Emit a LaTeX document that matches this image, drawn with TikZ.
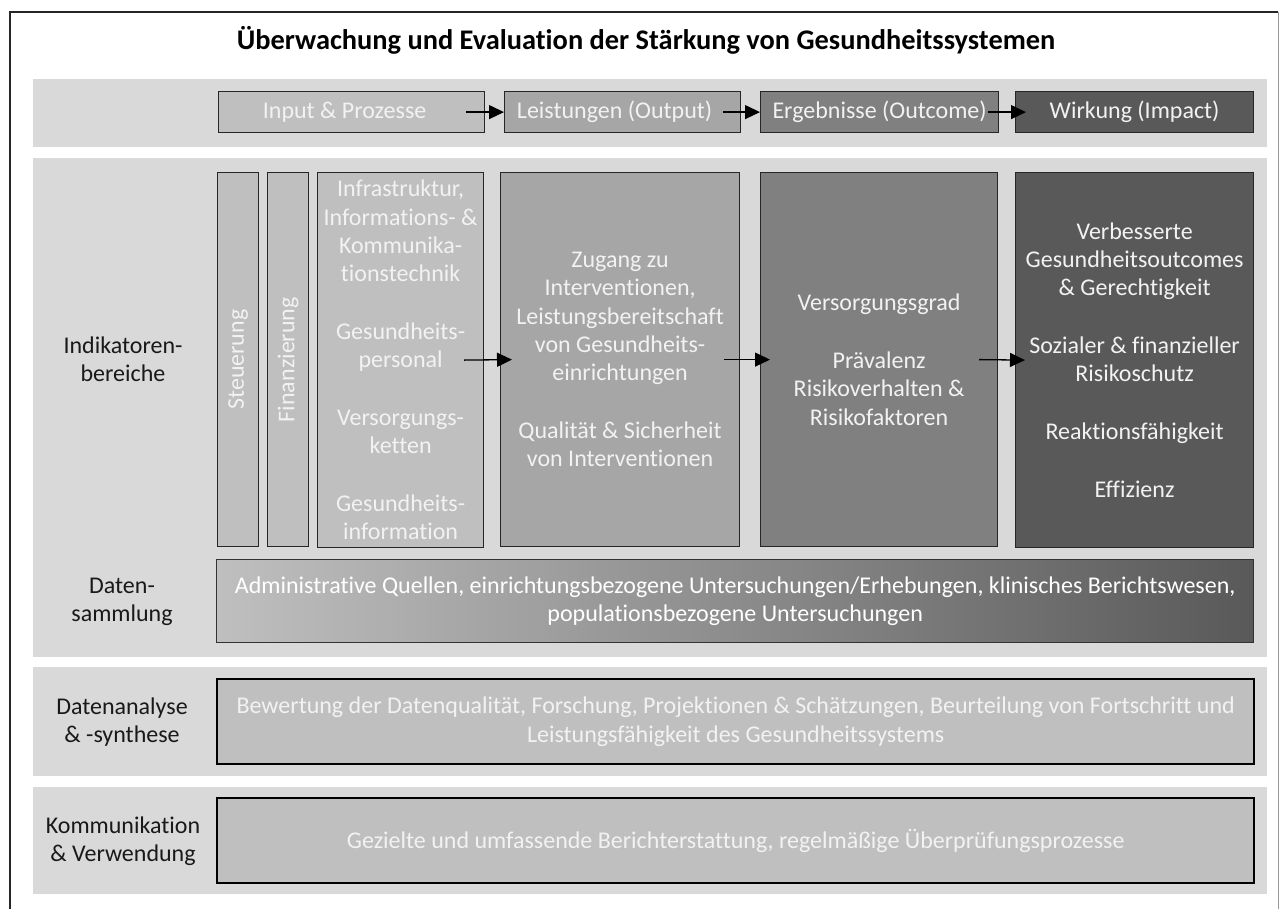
\documentclass[tikz,border=0pt]{standalone}
\usepackage{fontspec}
\setmainfont{Carlito}[Ligatures={NoCommon,NoContextual},Contextuals={NoAlternate}]
\usetikzlibrary{arrows.meta,calc}
\definecolor{panelgray}{HTML}{D9D9D9}
\definecolor{gA}{HTML}{BFBFBF}
\definecolor{gB}{HTML}{A6A6A6}
\definecolor{gC}{HTML}{808080}
\definecolor{gD}{HTML}{595959}
\definecolor{lighttext}{HTML}{F2F2F2}
\definecolor{edgecol}{HTML}{262626}
\begin{document}
\begin{tikzpicture}[x=1pt,y=-1pt,
  panel/.style={fill=panelgray,draw=none},
  txt/.style={font=\fontsize{24}{28.3}\selectfont},
  box/.style={txt,draw=edgecol,line width=1.2pt,inner sep=0pt,align=center,text=lighttext,anchor=north west},
  heavybox/.style={box,draw=black,line width=2.4pt,fill=gA},
  lbl/.style={txt,align=center,text=black!90},
  vlbl/.style={txt,rotate=90,text=lighttext},
  arr/.style={-{Triangle[length=15pt,width=14pt]},line width=1.3pt,black}]
\useasboundingbox (0,0) rectangle (1279,908);
% outer frame
\draw[line width=1.5pt,black!85] (10,940) -- (10,12) -- (1278,12);
\draw[line width=1pt,black!40] (1278,12) -- (1278,940);
% title
\node[font=\fontsize{28.4}{34}\selectfont\bfseries,anchor=base] (title) at (646,49) {Überwachung und Evaluation der Stärkung von Gesundheitssystemen};
% panels
\path[panel] (33,79) rectangle (1267,147);
\path[panel] (33,158) rectangle (1267,657);
\path[panel] (33,667) rectangle (1267,776);
\path[panel] (33,787) rectangle (1267,894);
% top row
\node[box,fill=gA,minimum width=266pt,minimum height=41pt] (inp) at (218,91) {};
\node[txt,text=lighttext] (inpt) at ($(inp.center)+(-7,0)$) {Input \& Prozesse};
\node[box,fill=gB,minimum width=236pt,minimum height=41pt] (outp) at (504,91) {};
\node[txt,text=lighttext] (outpt) at ($(outp.center)+(-8,0)$) {Leistungen (Output)};
\node[box,fill=gC,minimum width=238pt,minimum height=41pt] (outc) at (760,91) {Ergebnisse (Outcome)};
\node[box,fill=gD,minimum width=238pt,minimum height=41pt] (imp) at (1015,91) {Wirkung (Impact)};
\draw[arr] ($(inp.east)+(-19,0)$) -- (outp.west);
\draw[arr] ($(outp.east)+(-18,0)$) -- (outc.west);
\draw[arr] ($(outc.east)+(-11,0)$) -- ($(imp.west)+(11,0)$);
% indicator row
\node[box,fill=gA,minimum width=41pt,minimum height=374pt] (steu) at (217,172) {};
\node[vlbl] (steut) at (steu.center) {Steuerung};
\node[box,fill=gA,minimum width=41pt,minimum height=374pt] (fin) at (267,172) {};
\node[vlbl] (fint) at (fin.center) {Finanzierung};
\node[box,fill=gA,minimum width=166pt,minimum height=375pt] (infra) at (317,172)
  {Infrastruktur,\\Informations- \&\\Kommunika-\\tionstechnik\\[29.5pt]Gesundheits-\\personal\\[29.5pt]Versorgungs-\\ketten\\[29.5pt]Gesundheits-\\information};
\node[box,fill=gB,minimum width=239pt,minimum height=374pt] (zug) at (500,172)
  {Zugang zu\\Interventionen,\\Leistungsbereitschaft\\von Gesundheits-\\einrichtungen\\[29.5pt]Qualität \& Sicherheit\\von Interventionen};
\node[box,fill=gC,minimum width=237pt,minimum height=374pt] (vers) at (760,172)
  {Versorgungsgrad\\[29.5pt]Prävalenz\\Risikoverhalten \&\\Risikofaktoren};
\node[box,fill=gD,minimum width=238pt,minimum height=375pt] (verb) at (1015,172)
  {Verbesserte\\Gesundheitsoutcomes\\\& Gerechtigkeit\\[29.5pt]Sozialer \& finanzieller\\Risikoschutz\\[29.5pt]Reaktionsfähigkeit\\[29.5pt]Effizienz};
\draw[arr] ($(infra.east)+(-20,0)$) -- ($(zug.west)+(12,0)$);
\draw[arr] ($(zug.east)+(-16,0)$) -- ($(vers.west)+(10,0)$);
\draw[arr] ($(vers.east)+(-19,0)$) -- ($(verb.west)+(10,0)$);
% data collection
\node[box,draw=black!80,line width=1.4pt,left color=gA,right color=gD,text=white,minimum width=1037pt,minimum height=83pt] (data) at (216,559)
  {Administrative Quellen, einrichtungsbezogene Untersuchungen/Erhebungen, klinisches Berichtswesen,\\populationsbezogene Untersuchungen};
% analysis
\node[heavybox,minimum width=1037pt,minimum height=85pt] (anal) at (216,678)
  {Bewertung der Datenqualität, Forschung, Projektionen \& Schätzungen, Beurteilung von Fortschritt und\\Leistungsfähigkeit des Gesundheitssystems};
% communication
\node[heavybox,minimum width=1037pt,minimum height=85pt] (komm) at (216,797)
  {Gezielte und umfassende Berichterstattung, regelmäßige Überprüfungsprozesse};
% row labels
\node[lbl] (l1) at (123,359) {Indikatoren-\\bereiche};
\node[lbl] (l2) at (122,602) {Daten-\\sammlung};
\node[lbl] (l3) at (122,722) {Datenanalyse\\\& -synthese};
\node[lbl] (l4) at (123,841) {Kommunikation\\\& Verwendung};
\end{tikzpicture}
\end{document}
